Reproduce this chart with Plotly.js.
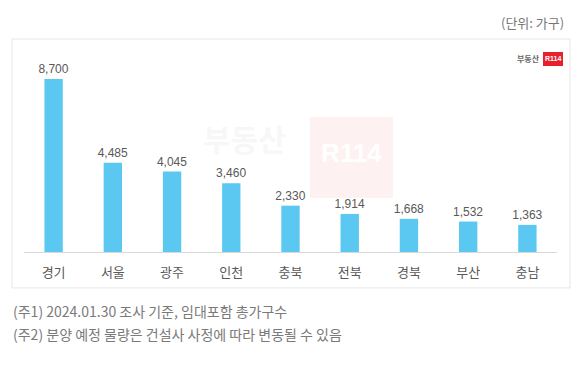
<!DOCTYPE html>
<html>
<head>
<meta charset="utf-8">
<script src="https://cdn.plot.ly/plotly-3.0.1.min.js"></script>
<style>html,body{margin:0;padding:0;background:#fff;}#chart{width:580px;height:377px;}</style>
</head>
<body>
<div id="chart"></div>
<script>
const categories = ['경기','서울','광주','인천','충북','전북','경북','부산','충남'];
const values = [8700, 4485, 4045, 3460, 2330, 1914, 1668, 1532, 1363];
const unitText = '(단위: 가구)';
const notes = ['(주1) 2024.01.30 조사 기준, 임대포함 총가구수', '(주2) 분양 예정 물량은 건설사 사정에 따라 변동될 수 있음'];

const FONT = '"Noto Sans CJK KR", "Noto Sans", sans-serif';

const trace = {
  type: 'bar',
  x: categories,
  y: values,
  marker: {color: '#5BC8F2'},
  texttemplate: '%{y:,}',
  textposition: 'outside',
  constraintext: 'none',
  cliponaxis: false,
  textfont: {family: 'Arial, "Liberation Sans", sans-serif', size: 12, color: '#595959'},
  hoverinfo: 'none'
};

const layout = {
  width: 580, height: 377,
  margin: {l: 24, r: 23, t: 62, b: 125, pad: 0},
  paper_bgcolor: '#ffffff', plot_bgcolor: 'rgba(0,0,0,0)',
  showlegend: false,
  bargap: 0.69,
  separators: '.,',
  font: {family: FONT, color: '#595959'},
  xaxis: {
    type: 'category',
    showline: true, linecolor: '#d9d9d9', linewidth: 1,
    ticks: '', showgrid: false, zeroline: false,
    tickfont: {family: FONT, size: 13, color: '#595959'},
    ticklabelstandoff: 8,
    fixedrange: true
  },
  yaxis: {
    range: [0, 9555], visible: false, showgrid: false, zeroline: false, fixedrange: true
  },
  shapes: [
    {type: 'rect', xref: 'paper', yref: 'paper', x0: -0.0225, x1: 1.0244, y0: -0.189, y1: 1.121,
     line: {color: '#e6e6e6', width: 1}, fillcolor: 'rgba(0,0,0,0)', layer: 'below'},
    {type: 'rect', xref: 'paper', yref: 'paper', x0: 0.5366, x1: 0.6923, y0: 0.284, y1: 0.7105,
     line: {width: 0}, fillcolor: '#fdf1f2', layer: 'below'},
    {type: 'rect', xref: 'paper', yref: 'paper', x0: 0.9737, x1: 1.0113, y0: 0.979, y1: 1.0526,
     line: {width: 0}, fillcolor: '#e8202e', layer: 'above'}
  ],
  annotations: [
    {xref: 'paper', yref: 'paper', x: 1.0169, y: 1.2105, xanchor: 'right', yanchor: 'middle',
     text: unitText, showarrow: false, font: {family: FONT, size: 13, color: '#777777'}},
    {xref: 'paper', yref: 'paper', x: -0.024, y: -0.31, xanchor: 'left', yanchor: 'middle',
     text: notes[0], showarrow: false, font: {family: FONT, size: 14, color: '#7a7a7a'}},
    {xref: 'paper', yref: 'paper', x: -0.024, y: -0.43, xanchor: 'left', yanchor: 'middle',
     text: notes[1], showarrow: false, font: {family: FONT, size: 14, color: '#7a7a7a'}},
    {xref: 'paper', yref: 'paper', x: 0.972, y: 1.016, xanchor: 'right', yanchor: 'middle',
     text: '<b>부동산</b>', showarrow: false, font: {family: FONT, size: 8, color: '#666666'}},
    {xref: 'paper', yref: 'paper', x: 0.9925, y: 1.016, xanchor: 'center', yanchor: 'middle',
     text: '<b>R114</b>', showarrow: false, font: {family: 'Arial, sans-serif', size: 7, color: '#ffffff'}},
    {xref: 'paper', yref: 'paper', x: 0.4146, y: 0.6, xanchor: 'center', yanchor: 'middle',
     text: '<b>부동산</b>', showarrow: false, font: {family: FONT, size: 30, color: '#f7f7f7'}},
    {xref: 'paper', yref: 'paper', x: 0.6145, y: 0.52, xanchor: 'center', yanchor: 'middle',
     text: '<b>R114</b>', showarrow: false, font: {family: 'Arial, sans-serif', size: 26, color: '#ffffff'}}
  ]
};

Plotly.newPlot('chart', [trace], layout, {displayModeBar: false, staticPlot: true});
</script>
</body>
</html>
